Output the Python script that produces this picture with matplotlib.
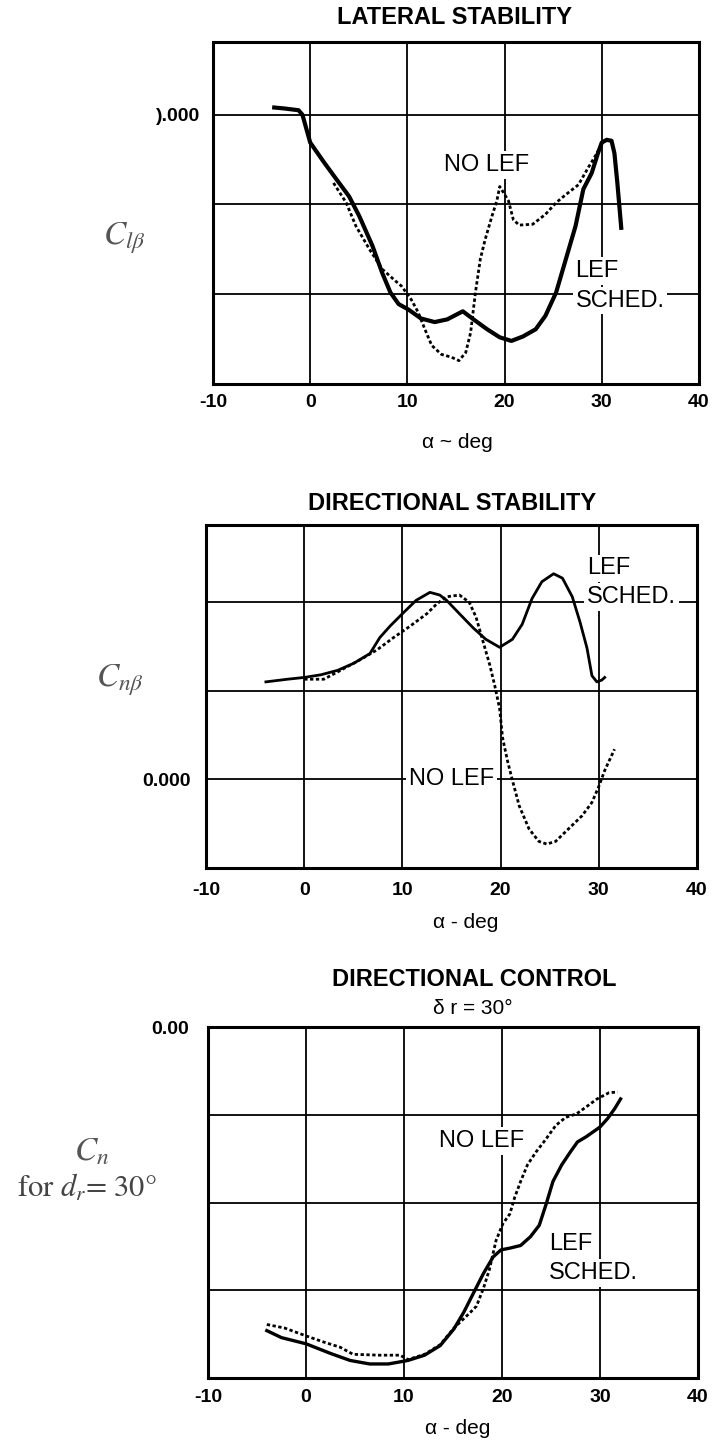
import numpy as np
import matplotlib.pyplot as plt

plt.rcParams['font.family'] = ['Liberation Sans', 'DejaVu Sans']
plt.rcParams['mathtext.fontset'] = 'stix'
plt.rcParams['axes.unicode_minus'] = False

W, H = 714, 1445

# angle of attack (deg) and coefficients, in grid steps (0 = labelled line)
# lateral stability, C_l beta
alpha_lat_lef = [-3.7, -2.7, -1.2, -0.8, 0.0, 1.35, 2.7, 4.0, 5.05, 6.4, 7.4, 8.25, 9.1,
                 10.1, 11.4, 12.8, 14.1, 15.7, 16.8, 18.2, 19.5, 20.7, 21.9, 23.2, 24.2,
                 25.3, 26.3, 27.3, 28.1, 28.96, 29.6, 30.0, 30.5, 31.0, 31.3, 31.6, 32.0]
clb_lef = [0.08, 0.07, 0.05, 0.0, -0.31, -0.52, -0.72, -0.91, -1.13, -1.46, -1.76, -1.98,
           -2.11, -2.17, -2.27, -2.31, -2.28, -2.19, -2.28, -2.39, -2.48, -2.52, -2.47,
           -2.39, -2.24, -1.98, -1.61, -1.24, -0.83, -0.65, -0.43, -0.31, -0.28, -0.29,
           -0.43, -0.76, -1.26]
alpha_lat_nolef = [2.4, 3.7, 4.7, 6.1, 7.4, 8.75, 9.4, 10.4, 11.1, 11.8, 12.5, 13.5, 14.5,
                   15.3, 16.0, 16.5, 17.0, 17.5, 18.0, 18.7, 19.2, 19.5, 19.9, 20.4, 20.9,
                   21.5, 22.9, 24.2, 25.3, 26.3, 27.6, 28.6, 29.5, 30.0]
clb_nolef = [-0.76, -0.98, -1.24, -1.5, -1.72, -1.85, -1.91, -2.06, -2.2, -2.39, -2.57,
             -2.67, -2.70, -2.74, -2.65, -2.43, -1.98, -1.61, -1.39, -1.13, -0.96, -0.80,
             -0.87, -0.96, -1.17, -1.23, -1.22, -1.11, -0.98, -0.89, -0.78, -0.59, -0.43,
             -0.31]

# directional stability, C_n beta
alpha_dir_lef = [-3.9, -1.7, 0.0, 1.7, 3.4, 5.05, 6.7, 7.7, 8.75, 10.1, 11.4, 12.8, 13.8,
                 14.5, 15.8, 17.2, 18.5, 19.9, 21.2, 22.2, 23.2, 24.2, 25.4, 26.3, 27.3,
                 28.1, 28.8, 29.3, 29.8, 30.3, 30.6]
cnb_lef = [1.10, 1.13, 1.15, 1.18, 1.23, 1.31, 1.42, 1.60, 1.73, 1.88, 2.02, 2.11, 2.08,
           2.02, 1.87, 1.71, 1.58, 1.49, 1.58, 1.75, 2.04, 2.23, 2.32, 2.27, 2.06, 1.77,
           1.48, 1.17, 1.10, 1.12, 1.15]
alpha_dir_nolef = [0.0, 2.0, 3.7, 5.7, 7.4, 9.1, 10.8, 12.5, 13.5, 14.5, 15.8, 16.8, 17.5,
                   18.2, 18.9, 19.4, 19.9, 20.2, 20.7, 21.2, 21.9, 22.9, 23.9, 24.7, 25.6,
                   26.9, 28.3, 29.3, 30.0, 30.6, 31.6]
cnb_nolef = [1.13, 1.13, 1.23, 1.35, 1.46, 1.60, 1.73, 1.87, 1.98, 2.06, 2.08, 2.0, 1.83,
             1.56, 1.29, 1.06, 0.80, 0.47, 0.21, -0.01, -0.30, -0.56, -0.70, -0.73, -0.70,
             -0.56, -0.41, -0.26, -0.08, 0.10, 0.34]

# directional control, C_n for rudder 30 deg
alpha_ctl_lef = [-4.0, -2.5, 0.0, 2.5, 4.5, 6.5, 8.4, 10.4, 12.1, 13.7, 15.1, 16.1, 17.1,
                 18.1, 19.1, 19.9, 20.8, 21.9, 22.9, 23.8, 24.5, 25.2, 26.1, 27.0, 27.7,
                 28.6, 30.0, 30.8, 31.5, 32.1]
cn_lef = [-3.46, -3.54, -3.61, -3.72, -3.80, -3.84, -3.84, -3.80, -3.74, -3.63, -3.44,
          -3.25, -3.03, -2.81, -2.62, -2.54, -2.52, -2.49, -2.39, -2.26, -2.02, -1.76,
          -1.57, -1.42, -1.31, -1.25, -1.14, -1.04, -0.93, -0.82]
alpha_ctl_nolef = [-4.0, -2.2, 0.0, 1.8, 3.5, 4.8, 7.5, 9.6, 10.4, 12.1, 13.7, 15.1, 16.7,
                   17.4, 18.1, 18.7, 19.4, 20.1, 20.8, 21.3, 21.9, 22.6, 23.5, 24.4, 25.5,
                   26.5, 27.6, 28.6, 29.7, 30.9, 31.8]
cn_nolef = [-3.39, -3.43, -3.52, -3.59, -3.65, -3.73, -3.74, -3.74, -3.79, -3.73, -3.62,
            -3.43, -3.26, -3.18, -2.98, -2.77, -2.43, -2.24, -2.13, -1.94, -1.76, -1.57,
            -1.42, -1.29, -1.12, -1.03, -0.99, -0.91, -0.82, -0.75, -0.74]

alpha_ticks = [-10, 0, 10, 20, 30, 40]
dotted = (0, (1.2, 0.9))


def add_axes_px(left, top, right, bottom):
    return fig.add_axes([left / W, 1 - bottom / H, (right - left) / W, (bottom - top) / H])


def style_axes(ax, ylim, yticks, ylabels, xpad, ypad):
    ax.set_xlim(-10, 40)
    ax.set_ylim(*ylim)
    ax.set_xticks(alpha_ticks)
    ax.set_yticks(yticks)
    ax.set_yticklabels(ylabels)
    ax.grid(True, color='black', lw=1.3)
    ax.set_axisbelow(True)
    ax.tick_params(length=0, labelsize=14)
    ax.tick_params(axis='x', pad=xpad)
    ax.tick_params(axis='y', pad=ypad)
    for lab in ax.get_xticklabels() + ax.get_yticklabels():
        lab.set_fontweight('bold')
    for s in ax.spines.values():
        s.set_linewidth(2.2)


def ftext(x, y, s, **kw):
    fig.text(x / W, 1 - y / H, s, ha='center', va='center', **kw)


def curve_label(ax, x, y, s):
    ax.text(x, y, s, fontsize=17, va='center', bbox=dict(fc='white', ec='none', pad=2))


fig = plt.figure(figsize=(W / 100, H / 100), dpi=100)

# lateral stability
ax1 = add_axes_px(213, 42, 699, 384)
style_axes(ax1, (-3, 0.81), [0, -1, -2], [').000', '', ''], 7, 9)
ax1.plot(alpha_lat_nolef, clb_nolef, color='black', lw=2.0, ls=dotted)
ax1.plot(alpha_lat_lef, clb_lef, color='black', lw=3.0, solid_joinstyle='round')
curve_label(ax1, 13.8, -0.56, 'NO LEF')
curve_label(ax1, 27.3, -1.74, 'LEF')
curve_label(ax1, 27.3, -2.07, 'SCHED.')
ftext(455, 18, 'LATERAL STABILITY', fontsize=17, fontweight='bold')
ftext(457, 443, 'α ~ deg', fontsize=15)
ftext(124, 238, r'$C_{l\beta}$', fontsize=24, color='#555555')

# directional stability
ax2 = add_axes_px(206, 525, 697, 868)
style_axes(ax2, (-1.0, 2.87), [2, 1, 0], ['', '', '0.000'], 10, 11)
ax2.plot(alpha_dir_nolef, cnb_nolef, color='black', lw=2.0, ls=dotted)
ax2.plot(alpha_dir_lef, cnb_lef, color='black', lw=2.0, solid_joinstyle='round')
curve_label(ax2, 10.7, 0.0, 'NO LEF')
curve_label(ax2, 28.8, 2.38, 'LEF')
curve_label(ax2, 28.8, 2.06, 'SCHED.')
ftext(452, 503, 'DIRECTIONAL STABILITY', fontsize=17, fontweight='bold')
ftext(466, 922, 'α - deg', fontsize=15)
ftext(120, 680, r'$C_{n\beta}$', fontsize=24, color='#555555')

# directional control
ax3 = add_axes_px(208, 1027, 698, 1378)
style_axes(ax3, (-4, 0), [0, -1, -2, -3], ['0.00', '', '', ''], 8, 14)
ax3.plot(alpha_ctl_nolef, cn_nolef, color='black', lw=2.0, ls=dotted)
ax3.plot(alpha_ctl_lef, cn_lef, color='black', lw=2.4, solid_joinstyle='round')
curve_label(ax3, 13.6, -1.30, 'NO LEF')
curve_label(ax3, 24.8, -2.47, 'LEF')
curve_label(ax3, 24.8, -2.80, 'SCHED.')
ftext(474, 980, 'DIRECTIONAL CONTROL', fontsize=17, fontweight='bold')
ftext(473, 1008, 'δ r = 30°', fontsize=15)
ftext(458, 1428, 'α - deg', fontsize=15)
ftext(92, 1152, r'$C_n$', fontsize=24, color='#555555')
ftext(87, 1188, 'for $d_r$= 30°', fontsize=22, color='#444444', family='STIXGeneral')

fig.savefig('out.png', dpi=100)
